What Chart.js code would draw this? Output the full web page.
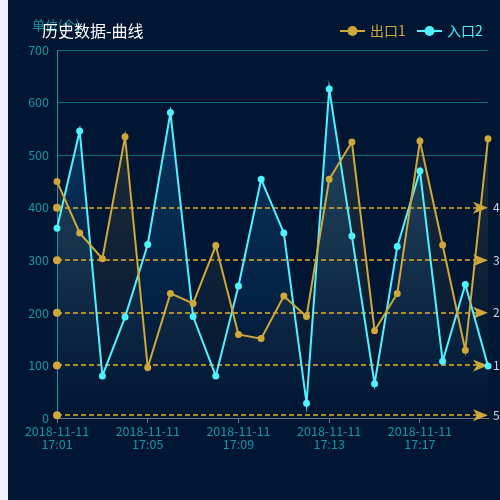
<!DOCTYPE html>
<html><head><meta charset="utf-8">
<script src="https://cdn.jsdelivr.net/npm/chart.js@4/dist/chart.umd.min.js"></script>
<style>
html,body{margin:0;padding:0;background:#f0f2f7;width:500px;height:500px;overflow:hidden;}
#wrap{position:absolute;left:8px;top:0;width:492px;height:500px;background:#011633;}
canvas{display:block;}
</style></head><body>
<div id="wrap"><canvas id="c" width="492" height="500"></canvas></div>
<script>
const times = ['17:01','17:02','17:03','17:04','17:05','17:06','17:07','17:08','17:09','17:10','17:11','17:12','17:13','17:14','17:15','17:16','17:17','17:18','17:19','17:20'];
const datePart = '2018-11-11';
const out1 = [450,352,303,535,96,237,218,328,159,151,232,193,454,525,166,237,527,329,129,531];
const in2 = [361,546,80,192,330,581,193,80,251,454,352,28,626,346,65,326,470,108,254,99];
const markValues = [400,300,200,100,5];
const seriesNames = ['出口1','入口2'];
const titleText = '历史数据-曲线';
const unitText = '单位(个)';
const yTicks = [0,100,200,300,400,500,600,700];

const GOLD = '#d0a83a', CYAN = '#4ef3ff', TEAL = '#1496a8';

function grad(ctx, top, bottom){
  const ca = ctx.chart.chartArea;
  if(!ca) return top;
  const g = ctx.chart.ctx.createLinearGradient(0, ca.top, 0, ca.bottom);
  g.addColorStop(0, top); g.addColorStop(1, bottom);
  return g;
}

const decor = {
  id:'decor',
  beforeDatasetsDraw(chart){
    const c = chart.ctx, x = chart.scales.x, y = chart.scales.y;
    const x0 = x.getPixelForValue(0);
    const xEnd = x.getPixelForValue(times.length-1);
    c.save();
    markValues.forEach(v=>{
      const pyRaw = y.getPixelForValue(v);
      const py = Math.round(pyRaw);
      c.strokeStyle = '#e0b02e'; c.lineWidth = 1.5; c.setLineDash([5,3]);
      c.beginPath(); c.moveTo(x0, py); c.lineTo(xEnd-8, py); c.stroke();
      c.setLineDash([]);
      c.fillStyle = GOLD;
      c.beginPath(); c.arc(x0, pyRaw, 4, 0, Math.PI*2); c.fill();
      c.beginPath();
      c.moveTo(xEnd, pyRaw); c.lineTo(xEnd-15, pyRaw-6); c.lineTo(xEnd-11, pyRaw); c.lineTo(xEnd-15, pyRaw+6); c.closePath(); c.fill();
      c.fillStyle = '#cfd3da'; c.font = '12px "Noto Sans CJK SC", sans-serif';
      c.textAlign = 'left'; c.textBaseline = 'middle';
      c.fillText(String(v), xEnd+5, pyRaw);
    });
    c.restore();
  },
  afterDraw(chart){
    const c = chart.ctx;
    c.save();
    c.textBaseline = 'middle'; c.textAlign = 'left';
    c.fillStyle = TEAL; c.font = '13px "Noto Sans CJK SC", sans-serif';
    c.fillText(unitText, 24, 25);
    c.fillStyle = '#ffffff'; c.font = '16px "Noto Sans CJK SC", sans-serif';
    c.fillText(titleText, 34, 31);
    const items = [[seriesNames[0], GOLD, 332],[seriesNames[1], CYAN, 409]];
    items.forEach(([t,col,lx])=>{
      c.strokeStyle = col; c.lineWidth = 2;
      c.beginPath(); c.moveTo(lx, 31); c.lineTo(lx+25, 31); c.stroke();
      c.fillStyle = col; c.beginPath(); c.arc(lx+12.5, 31, 5, 0, Math.PI*2); c.fill();
      c.font = '14px "Noto Sans CJK SC", sans-serif';
      c.fillText(t, lx+30, 31);
    });
    c.restore();
  }
};

new Chart(document.getElementById('c'), {
  type:'line',
  data:{
    labels: times.map(t=>[datePart, t]),
    datasets:[
      {label:seriesNames[0], data:out1, borderColor:GOLD, pointBackgroundColor:GOLD, pointBorderColor:GOLD,
       borderWidth:2, pointRadius:2.5, tension:0, fill:'origin',
       backgroundColor: ctx=>grad(ctx,'rgba(170,150,90,0.22)','rgba(170,150,90,0.0)')},
      {label:seriesNames[1], data:in2, borderColor:CYAN, pointBackgroundColor:CYAN, pointBorderColor:CYAN,
       borderWidth:2, pointRadius:2.5, tension:0, fill:'origin',
       backgroundColor: ctx=>grad(ctx,'rgba(30,120,190,0.38)','rgba(30,120,190,0.0)')}
    ]
  },
  options:{
    responsive:false, animation:false,
    layout:{padding:{top:50,right:12,bottom:42,left:0}},
    plugins:{legend:{display:false}, tooltip:{enabled:false}, filler:{drawTime:'beforeDatasetsDraw'}},
    scales:{
      x:{
        offset:false,
        grid:{display:true, drawOnChartArea:false, tickLength:5, offset:false,
              color: ctx => (ctx.index%4===0 ? '#70757e' : 'rgba(0,0,0,0)')},
        border:{color:'#70757e', width:1},
        ticks:{autoSkip:false, maxRotation:0, color:TEAL, padding:2,
               font:{size:12.5, family:'"Noto Sans CJK SC", sans-serif', lineHeight:1.05},
               callback:(v,i)=> i%4===0 ? [datePart, times[i]] : ''},
        afterFit(s){ s.height = 40; }
      },
      y:{
        min:0, max:700,
        afterBuildTicks(s){ s.ticks = yTicks.map(v=>({value:v})); },
        grid:{drawTicks:false,
              color: ctx => (ctx.tick && markValues.includes(ctx.tick.value) ? 'rgba(0,0,0,0)' : '#0c6a78')},
        border:{color:TEAL, width:1},
        ticks:{color:TEAL, padding:8, font:{size:12.5, family:'"Noto Sans CJK SC", sans-serif'}},
        afterFit(s){ s.width = 49; }
      }
    }
  },
  plugins:[decor]
});
</script></body></html>
